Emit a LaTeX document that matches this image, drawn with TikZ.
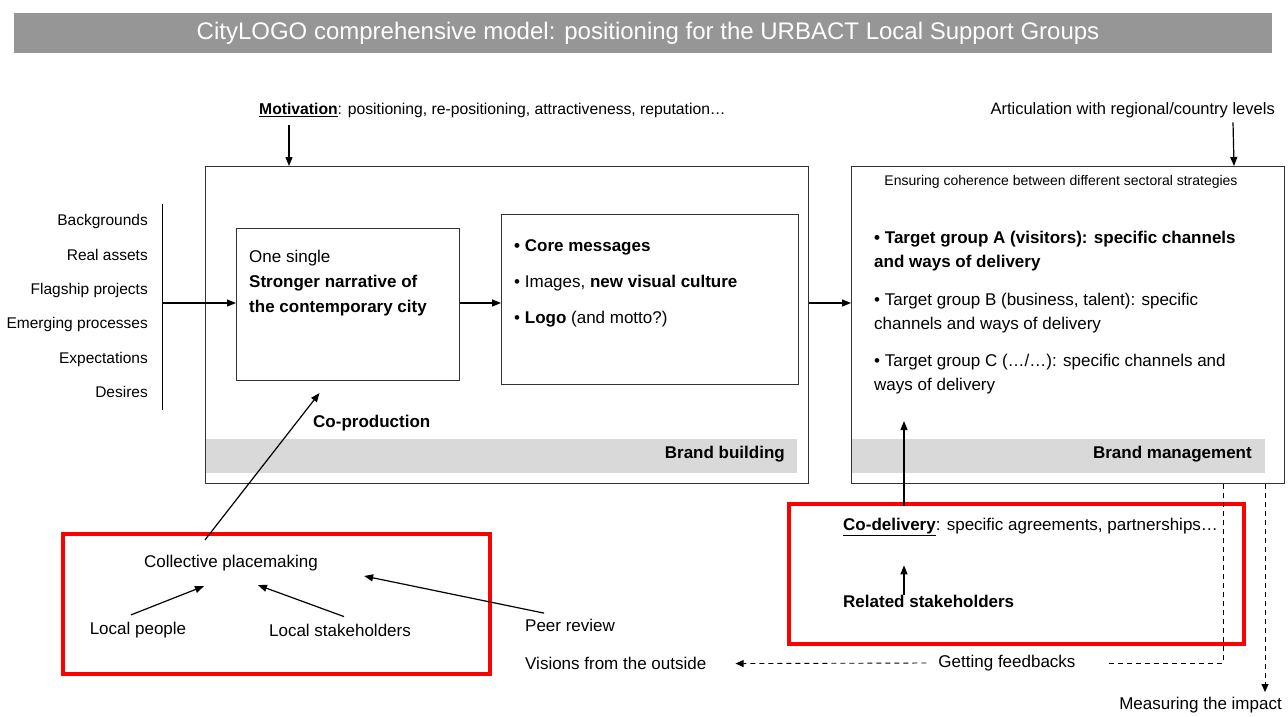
\documentclass[tikz,border=0pt]{standalone}
\usepackage{fontspec}
\setmainfont{Liberation Sans}
\usetikzlibrary{arrows.meta,positioning}
\definecolor{titlegray}{RGB}{150,150,150}
\definecolor{bandgray}{RGB}{217,217,217}
\definecolor{framered}{RGB}{255,0,0}
\tikzset{
  lbl/.style={font=\fontsize{17}{24}\selectfont, inner sep=0pt, align=left},
  srclbl/.style={lbl, font=\fontsize{15.5}{18}\selectfont, anchor=mid east},
  box/.style={draw=black!80, line width=1pt, inner sep=0pt, anchor=north west},
  band/.style={fill=bandgray, draw=none, inner sep=0pt, anchor=north west, minimum height=34pt},
  redbox/.style={draw=framered, line width=3.5pt, inner sep=0pt, anchor=north west},
  arr/.style={-{Triangle[length=9pt,width=7pt]}, line width=1.2pt},
  dline/.style={line width=0.9pt, dash pattern=on 5pt off 4pt},
  darr/.style={dline, -{Triangle[length=8pt,width=7pt]}},
}
\begin{document}
\begin{tikzpicture}[x=1pt,y=-1pt]
\useasboundingbox (0,0) rectangle (1288,716);
\node[fill=titlegray, minimum width=1258pt, minimum height=40pt, inner sep=0pt, anchor=north west] (bar) at (14,13) {};
\node[text=white, inner sep=0pt, font=\fontsize{24}{28}\selectfont] (title) at (648,33) {CityLOGO comprehensive model: positioning for the URBACT Local Support Groups};

\node[band, minimum width=592pt] (bbband) at (205,439) {};
\node[band, minimum width=414pt] (bmband) at (851,439) {};
\node[box, minimum width=603pt, minimum height=317pt] (bb) at (205,166) {};
\node[box, minimum width=433pt, minimum height=317pt] (bm) at (851,166) {};
\node[box, minimum width=223pt, minimum height=152pt] (nar) at (236,228) {};
\node[box, minimum width=297pt, minimum height=170pt] (msg) at (501,214) {};
\node[redbox, minimum width=427pt, minimum height=140pt] (lsg) at (61,532) {};
\node[redbox, minimum width=455pt, minimum height=140pt] (dlv) at (787,502) {};

\node[lbl, anchor=mid west, font=\fontsize{15.7}{20}\selectfont] (mot) at (259,112) {\underline{\textbf{Motivation}}: positioning, re-positioning, attractiveness, reputation…};
\node[lbl, anchor=mid east, font=\fontsize{16.5}{20}\selectfont] (art) at (1275,112) {Articulation with regional/country levels};
\node[lbl, font=\fontsize{14}{16}\selectfont] (ens) at (1061,182) {Ensuring coherence between different sectoral strategies};

\foreach \src [count=\i from 0] in {Backgrounds,Real assets,Flagship projects,Emerging processes,Expectations,Desires}
  \node[srclbl] (src\i) at (148,{223+34.4*\i}) {\src};
\draw[line width=1pt] (162,204) -- (162,410);
\coordinate (lst) at (162,303);

\node[lbl, anchor=north west, font=\fontsize{17}{25}\selectfont] (one) at (249,250) {One single\\\textbf{Stronger narrative of}\\\textbf{the contemporary city}};
\node[lbl, anchor=base west] (core) at (514,251) {\textbf{• Core messages}};
\node[lbl, anchor=base west] (img) at (514,287) {• Images, \textbf{new visual culture}};
\node[lbl, anchor=base west] (logo) at (514,323) {• \textbf{Logo} (and motto?)};
\node[lbl, anchor=mid west] (coprod) at (313,425) {\textbf{Co-production}};
\node[lbl, anchor=mid east] (bbl) at (785,456) {\textbf{Brand building}};

\node[lbl, anchor=north west] (tga) at (874,230.5) {\textbf{• Target group A (visitors): specific channels}\\\textbf{and ways of delivery}};
\node[lbl, anchor=north west] (tgb) at (874,292.5) {• Target group B (business, talent): specific\\channels and ways of delivery};
\node[lbl, anchor=north west] (tgc) at (874,353.5) {• Target group C (…/…): specific channels and\\ways of delivery};
\node[lbl, anchor=mid east] (bml) at (1252,456) {\textbf{Brand management}};

\node[lbl] (cp) at (231,563) {Collective placemaking};
\node[lbl] (lp) at (138,630) {Local people};
\node[lbl] (ls) at (340,630) {Local stakeholders};
\node[lbl, anchor=mid west] (pr) at (525,629) {Peer review};
\node[lbl, anchor=mid west] (vis) at (525,667) {Visions from the outside};
\node[lbl, anchor=mid west] (codel) at (843,528) {\underline{\textbf{Co-delivery}}: specific agreements, partnerships…};
\node[lbl, anchor=mid west] (rel) at (843,605) {\textbf{Related stakeholders}};
\node[lbl] (gf) at (1007,663) {Getting feedbacks};
\node[lbl, anchor=mid east] (meas) at (1282,707) {Measuring the impact};
\coordinate (fbc) at (1223,663);
\coordinate (msr) at (1265,692);

\draw[arr] ([shift={(30,7)}]mot.south west) -- ([xshift=84pt]bb.north west);
\draw[arr] ([shift={(-42,4)}]art.south east) -- ([xshift=-51pt]bm.north east);
\draw[arr] (lst) -- (nar.west |- lst);
\draw[arr] (nar.east |- lst) -- (msg.west |- lst);
\draw[arr] (bb.east |- lst) -- (bm.west |- lst);
\draw[arr] ([shift={(-26,-15)}]cp.north) -- ([shift={(-28.5,12)}]nar.south);
\draw[arr] ([shift={(-7,-7)}]lp.north) -- ([shift={(-27,15)}]cp.south);
\draw[arr] ([shift={(4,-7)}]ls.north) -- ([shift={(27,14)}]cp.south);
\draw[arr] ([shift={(-26,-6)}]pr.north) -- ([shift={(46,13)}]cp.east);
\draw[arr] ([shift={(61,-12)}]codel.north west) -- ([shift={(53,-63)}]bm.south west);
\draw[arr] ([shift={(61,0)}]rel.north west) -- ([shift={(61,29)}]codel.south west);
\draw[darr] ([xshift=-12pt]gf.west) -- ([xshift=29pt]vis.east);
\draw[dline] ([xshift=33pt]gf.east) -- (fbc) -- (fbc |- bm.south);
\draw[darr] (msr |- bm.south) -- (msr);
\end{tikzpicture}
\end{document}
